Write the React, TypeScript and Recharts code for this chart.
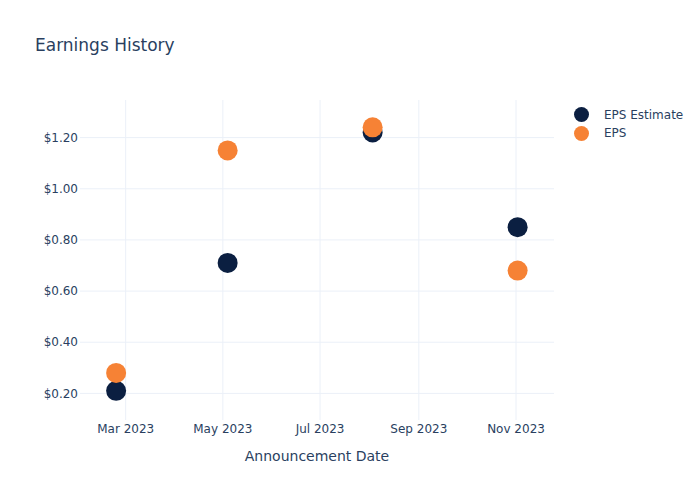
import { ScatterChart, Scatter, XAxis, YAxis, CartesianGrid } from "recharts";

// announcement dates and EPS values
const announceDates = ["2023-02-23", "2023-05-04", "2023-08-03", "2023-11-02"];
const epsEstimate = [0.21, 0.71, 1.22, 0.85];
const epsActual = [0.28, 1.15, 1.24, 0.68];

const xTickDates = ["2023-03-01", "2023-05-01", "2023-07-01", "2023-09-01", "2023-11-01"];
const yTicks = [0.2, 0.4, 0.6, 0.8, 1.0, 1.2];

const MONTHS = ["Jan", "Feb", "Mar", "Apr", "May", "Jun", "Jul", "Aug", "Sep", "Oct", "Nov", "Dec"];
const TEXT = "#2a3f5f";
const GRID = "#ebf0f8";
const NAVY = "#0b1f41";
const ORANGE = "#f68235";

const toTime = (s: string) => new Date(s + "T00:00:00Z").getTime();

const estimateData = announceDates.map((d, i) => ({ date: toTime(d), value: epsEstimate[i] }));
const actualData = announceDates.map((d, i) => ({ date: toTime(d), value: epsActual[i] }));
const xTicks = xTickDates.map(toTime);

const xDomain = [toTime("2023-01-31") + 8 * 3600e3, toTime("2023-11-24") + 20 * 3600e3];
const yDomain = [0.096, 1.347];

const formatDate = (t: number) => {
    const d = new Date(t);
    return `${MONTHS[d.getUTCMonth()]} ${d.getUTCFullYear()}`;
};

const dot = (color: string) => (props: any) => (
    <circle cx={props.cx} cy={props.cy} r={10} fill={color} />
);

// grid lines only at tick values (recharts otherwise adds lines on the plot edges)
const hLines = ({ offset }: any) =>
    yTicks.map((v) => offset.top + offset.height * (1 - (v - yDomain[0]) / (yDomain[1] - yDomain[0])));
const vLines = ({ offset }: any) =>
    xTicks.map((v) => offset.left + (offset.width * (v - xDomain[0])) / (xDomain[1] - xDomain[0]));

const legendItems = [
    { name: "EPS Estimate", color: NAVY },
    { name: "EPS", color: ORANGE },
];

const App = () => {
    return (
        <div style={{ position: "absolute", left: 0, top: 0, width: 700, height: 500, fontFamily: "DejaVu Sans", background: "#fff" }}>
            <div style={{ position: "absolute", left: 35, top: 35, fontSize: 17, lineHeight: "20px", color: TEXT }}>
                Earnings History
            </div>

            <ScatterChart width={700} height={500} margin={{ top: 100, right: 146, bottom: 49, left: 0 }}>
                <CartesianGrid
                    stroke={GRID}
                    strokeWidth={1}
                    horizontalCoordinatesGenerator={hLines}
                    verticalCoordinatesGenerator={vLines}
                />
                <XAxis
                    type="number"
                    dataKey="date"
                    domain={xDomain}
                    allowDataOverflow
                    ticks={xTicks}
                    tickFormatter={formatDate}
                    axisLine={false}
                    tickLine={false}
                    tickSize={0}
                    tickMargin={4}
                    height={31}
                    tick={{ fill: TEXT, fontSize: 12, fontFamily: "DejaVu Sans" }}
                    label={{ value: "Announcement Date", position: "bottom", offset: 0, fill: TEXT, fontSize: 14, fontFamily: "DejaVu Sans" }}
                />
                <YAxis
                    type="number"
                    dataKey="value"
                    domain={yDomain}
                    allowDataOverflow
                    ticks={yTicks}
                    tickFormatter={(v: number) => `$${v.toFixed(2)}`}
                    axisLine={false}
                    tickLine={false}
                    tickSize={0}
                    tickMargin={2}
                    width={80}
                    tick={{ fill: TEXT, fontSize: 12, fontFamily: "DejaVu Sans" }}
                />
                <Scatter name="EPS Estimate" data={estimateData} fill={NAVY} shape={dot(NAVY)} isAnimationActive={false} />
                <Scatter name="EPS" data={actualData} fill={ORANGE} shape={dot(ORANGE)} isAnimationActive={false} />
            </ScatterChart>

            {/* legend */}
            <div style={{ position: "absolute", left: 574, top: 105.5 }}>
                {legendItems.map((item) => (
                    <div key={item.name} style={{ display: "flex", alignItems: "center", height: 18.5 }}>
                        <div style={{ width: 15, height: 15, borderRadius: "50%", background: item.color }} />
                        <span style={{ marginLeft: 15, fontSize: 12, color: TEXT }}>{item.name}</span>
                    </div>
                ))}
            </div>
        </div>
    );
};

export default App;
